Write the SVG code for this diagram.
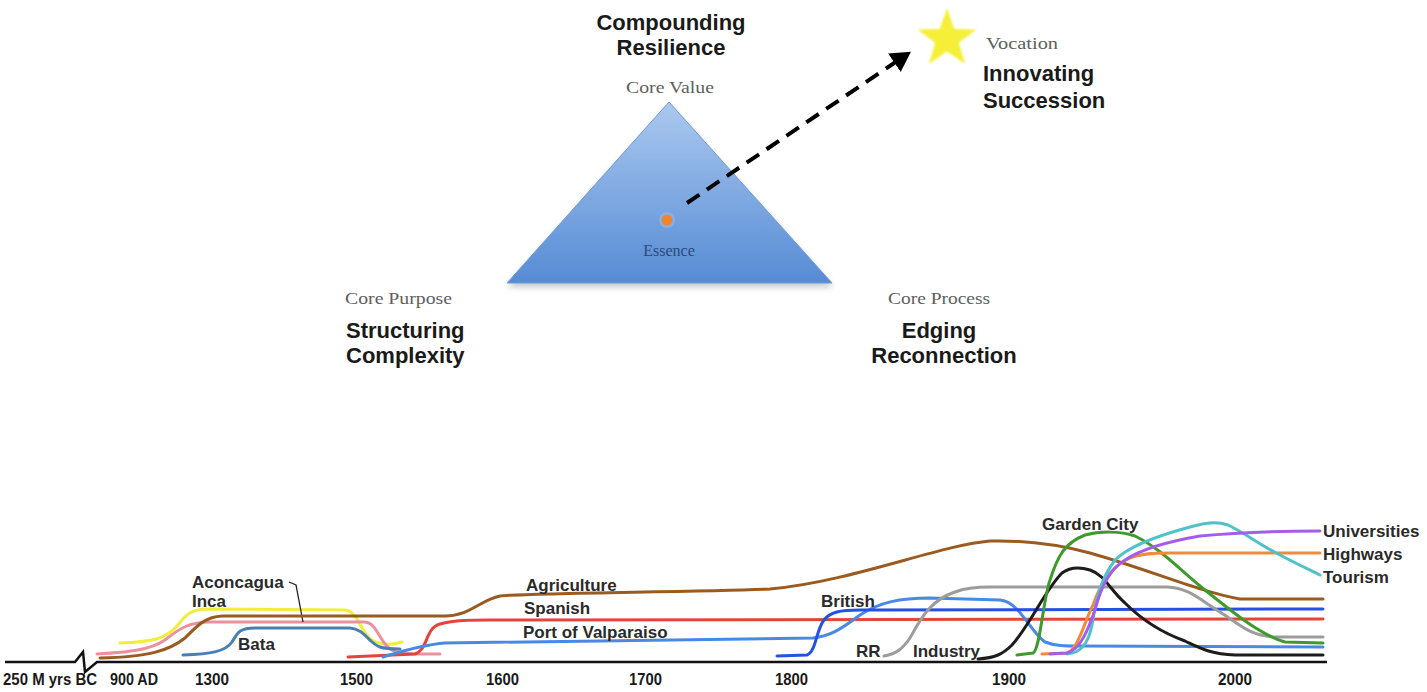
<svg xmlns="http://www.w3.org/2000/svg" width="1427" height="692" viewBox="0 0 1427 692">
  <defs>
    <linearGradient id="triGrad" x1="0" y1="0" x2="0" y2="1">
      <stop offset="0" stop-color="#abc9ef"/>
      <stop offset="1" stop-color="#568bd5"/>
    </linearGradient>
    <filter id="soft" x="-20%" y="-20%" width="140%" height="140%">
      <feGaussianBlur stdDeviation="3"/>
    </filter>
    <filter id="glow" x="-30%" y="-30%" width="160%" height="160%">
      <feGaussianBlur stdDeviation="1.2"/>
    </filter>
    <marker id="arrow" markerWidth="6" markerHeight="6" refX="3.5" refY="2.8" orient="auto" markerUnits="strokeWidth">
      <path d="M0,0 L5,2.8 L0,5.6 Z" fill="#000"/>
    </marker>
    <style>
      .big { font-family: "Liberation Sans", Arial, sans-serif; font-weight: bold; font-size: 22px; fill: #1a1a1a; }
      .serif { font-family: "Liberation Serif", "Times New Roman", serif; font-size: 16px; fill: #5e5e5e; }
      .lbl { font-family: "Liberation Sans", Arial, sans-serif; font-weight: bold; font-size: 17px; fill: #2a2a2a; }
      .tick { font-family: "Liberation Sans", Arial, sans-serif; font-weight: bold; font-size: 16px; fill: #1a1a1a; }
      .curve { fill: none; stroke-width: 3; stroke-linecap: round; stroke-linejoin: round; }
    </style>
  </defs>
  <rect width="1427" height="692" fill="#ffffff"/>

  <!-- Triangle node -->
  <g id="triangle">
    <polygon points="669,106 507,287 833,287" fill="#9a9a9a" opacity="0.55" filter="url(#soft)"/>
    <polygon points="669,102 507,283 832,283" fill="url(#triGrad)" stroke="#6f9bd6" stroke-width="1"/>
    <circle cx="667" cy="220" r="8" fill="#8fb6ea" opacity="0.7"/>
    <circle cx="667" cy="220" r="5.5" fill="#f0852e"/>
    <text x="669" y="256" text-anchor="middle" font-family="Liberation Serif, serif" font-size="16" fill="#2b4a7c">Essence</text>
  </g>

  <g id="core-value">
    <text class="big" x="671" y="30" text-anchor="middle">Compounding</text>
    <text class="big" x="671" y="55" text-anchor="middle">Resilience</text>
    <text class="serif" x="670" y="93" text-anchor="middle" textLength="88" lengthAdjust="spacingAndGlyphs">Core Value</text>
  </g>

  <g id="core-purpose">
    <text class="serif" x="345" y="304" textLength="107" lengthAdjust="spacingAndGlyphs">Core Purpose</text>
    <text class="big" x="346" y="338">Structuring</text>
    <text class="big" x="346" y="363">Complexity</text>
  </g>

  <g id="core-process">
    <text class="serif" x="888" y="304" textLength="102" lengthAdjust="spacingAndGlyphs">Core Process</text>
    <text class="big" x="939" y="338" text-anchor="middle">Edging</text>
    <text class="big" x="944" y="363" text-anchor="middle">Reconnection</text>
  </g>

  <g id="vocation">
    <polygon points="947,8 954.3,29 976.5,29.4 958.8,42.8 965.2,64 947,51.4 928.8,64 935.2,42.8 917.5,29.4 939.7,29" fill="#f6ef38" filter="url(#glow)"/>
    <text class="serif" x="986" y="49" textLength="72" lengthAdjust="spacingAndGlyphs">Vocation</text>
    <text class="big" x="983" y="81">Innovating</text>
    <text class="big" x="983" y="108">Succession</text>
  </g>

  <g id="connectors">
    <line x1="687" y1="203" x2="906" y2="55" stroke="#000" stroke-width="4" stroke-dasharray="15 9" marker-end="url(#arrow)"/>
  </g>

  <!-- Timeline -->
  <g id="timeline-axis">
    <polyline points="5,662 75,662 83,652 85,672 97,662 1327,662" fill="none" stroke="#111" stroke-width="2.5" stroke-linejoin="miter"/>
    <text class="tick" x="3" y="685" textLength="94" lengthAdjust="spacingAndGlyphs">250 M yrs BC</text>
    <text class="tick" x="110" y="685" textLength="48" lengthAdjust="spacingAndGlyphs">900 AD</text>
    <text class="tick" x="195" y="685" textLength="34" lengthAdjust="spacingAndGlyphs">1300</text>
    <text class="tick" x="340" y="685" textLength="33" lengthAdjust="spacingAndGlyphs">1500</text>
    <text class="tick" x="486" y="685" textLength="33" lengthAdjust="spacingAndGlyphs">1600</text>
    <text class="tick" x="629" y="685" textLength="33" lengthAdjust="spacingAndGlyphs">1700</text>
    <text class="tick" x="775" y="685" textLength="33" lengthAdjust="spacingAndGlyphs">1800</text>
    <text class="tick" x="992" y="685" textLength="34" lengthAdjust="spacingAndGlyphs">1900</text>
    <text class="tick" x="1218" y="685" textLength="34" lengthAdjust="spacingAndGlyphs">2000</text>
  </g>

  <g id="inca">
    <path class="curve" stroke="#f2ec3c" stroke-width="4" d="M120,643 C150,642 165,640 178,625 C186,614 192,610 205,609 L345,610 C358,611 360,632 372,640 C382,646 392,645 402,642"/>
    <text class="lbl" x="192" y="607">Inca</text>
  </g>
  <g id="aconcagua">
    <path class="curve" stroke="#ec8f9f" d="M97,654 C130,652 150,650 165,640 C180,628 190,622 210,622 L365,622 C378,623 380,645 392,650 C398,654 410,654 440,654"/>
    <text class="lbl" x="192" y="588">Aconcagua</text>
    <path d="M289,582 L296,585 L303,622" fill="none" stroke="#222" stroke-width="1.3"/>
  </g>
  <g id="bata">
    <path class="curve" stroke="#4a7fb3" d="M183,655 C210,654 225,652 232,642 C238,632 240,628 255,628 L350,628 C365,629 368,643 380,647 C386,649 392,649 400,649"/>
    <text class="lbl" x="238" y="650">Bata</text>
  </g>
  <g id="agriculture">
    <path class="curve" stroke="#9a5b20" d="M100,658 C150,657 170,650 185,638 C198,625 205,617 222,616 L445,616 C470,616 480,600 500,596 C520,593 700,592 770,589 C850,582 940,545 990,541 C1030,540 1060,545 1090,553 C1150,570 1200,592 1240,599 L1323,599"/>
    <text class="lbl" x="526" y="591">Agriculture</text>
  </g>
  <g id="spanish">
    <path class="curve" stroke="#e4443a" d="M348,657 L415,654 C428,650 425,628 440,624 C455,620 470,620 490,620 L1323,619"/>
    <text class="lbl" x="524" y="614">Spanish</text>
  </g>
  <g id="port-of-valparaiso">
    <path class="curve" stroke="#4a88e6" d="M383,657 C400,652 420,645 445,643 L813,638 C830,636 840,630 860,615 C880,602 900,598 930,598 L1000,600 C1020,602 1030,632 1045,642 C1055,646 1065,646 1080,646 L1323,647"/>
    <text class="lbl" x="523" y="638">Port of Valparaiso</text>
  </g>
  <g id="british">
    <path class="curve" stroke="#2650e2" d="M777,656 L807,655 C816,652 816,630 824,620 C830,612 840,610 860,610 L1323,609"/>
    <text class="lbl" x="821" y="607">British</text>
  </g>
  <g id="rr">
    <path class="curve" stroke="#9c9c9c" d="M884,656 C897,654 903,648 910,638 C920,620 930,600 955,592 C965,588 975,587 990,587 L1167,587 C1190,588 1200,600 1220,612 C1240,625 1250,636 1275,637 L1323,637"/>
    <text class="lbl" x="856" y="657">RR</text>
  </g>
  <g id="industry">
    <path class="curve" stroke="#1c1c1c" d="M978,659 C995,658 1003,654 1012,645 C1030,625 1045,590 1062,573 C1070,567 1080,567 1090,570 C1105,575 1110,590 1125,603 C1140,618 1160,632 1185,641 C1200,648 1210,654 1235,655 L1323,655"/>
    <text class="lbl" x="913" y="657">Industry</text>
  </g>
  <g id="garden-city">
    <path class="curve" stroke="#3f9a2e" d="M1017,655 L1033,653 C1040,650 1043,600 1050,580 C1058,555 1065,543 1085,535 C1100,531 1120,531 1135,536 C1160,548 1180,570 1205,590 C1230,610 1260,635 1285,642 L1323,643"/>
    <text class="lbl" x="1042" y="530">Garden City</text>
  </g>
  <g id="highways">
    <path class="curve" stroke="#f28a3c" d="M1042,654 L1067,653 C1078,650 1085,620 1093,605 C1100,585 1110,567 1130,558 C1140,554 1150,553 1170,553 L1320,553"/>
    <text class="lbl" x="1323" y="560">Highways</text>
  </g>
  <g id="tourism">
    <path class="curve" stroke="#4fc2c9" d="M1067,654 C1080,653 1088,645 1092,625 C1096,600 1100,580 1115,560 C1130,545 1160,535 1190,527 C1205,523 1215,521 1228,525 C1245,533 1260,545 1280,555 C1295,563 1310,570 1320,575"/>
    <text class="lbl" x="1323" y="583">Tourism</text>
  </g>
  <g id="universities">
    <path class="curve" stroke="#a35de8" d="M1050,654 L1067,653 C1080,650 1088,630 1095,610 C1100,590 1108,570 1125,560 C1140,550 1165,542 1200,536 C1240,532 1270,531 1320,531"/>
    <text class="lbl" x="1323" y="537">Universities</text>
  </g>
</svg>
